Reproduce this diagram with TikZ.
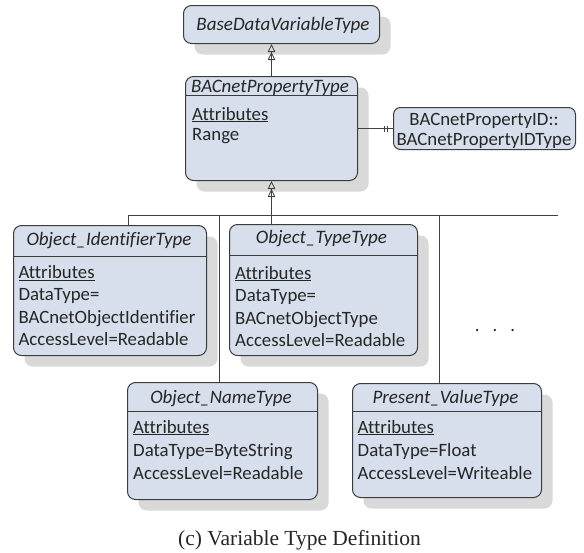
\documentclass[tikz,border=0pt]{standalone}
\usepackage{fontspec}
\setmainfont{Carlito}[Ligatures=NoCommon]
\newfontfamily\capfont{Liberation Serif}
\usetikzlibrary{arrows.meta,shadows}
\definecolor{boxfill}{HTML}{D6DFEB}
\definecolor{boxline}{HTML}{3C3C3C}
\definecolor{shadowgray}{HTML}{D9D9D9}
\definecolor{txt}{HTML}{262626}
\definecolor{conncol}{HTML}{404040}
\tikzset{
  cls/.style={draw=boxline, fill=boxfill, rounded corners=8pt, line width=1pt, anchor=north west, inner sep=0pt,
    drop shadow={shadow xshift=11pt, shadow yshift=-11pt, fill=shadowgray, opacity=1}},
  plainbox/.style={draw=boxline, fill=boxfill, rounded corners=7pt, line width=1pt, anchor=north west, inner sep=0pt},
  ttl/.style={font=\fontsize{19}{22}\selectfont\itshape, text=txt, inner sep=0pt, anchor=base},
  attr/.style={font=\fontsize{18.8}{22}\selectfont, text=txt, inner sep=0pt, anchor=base west},
  sepline/.style={draw=boxline, line width=0.8pt},
  conn/.style={draw=conncol, line width=0.9pt},
  gen/.style={conn, -{Triangle[open,length=8pt,width=7.5pt,line width=0.8pt]Triangle[open,length=8pt,width=7.5pt,line width=0.8pt]}},
}
\begin{document}
\begin{tikzpicture}[x=1pt,y=-1pt]
\useasboundingbox (0,0) rectangle (584,552);

% BaseDataVariableType
\node[cls, minimum width=196pt, minimum height=38pt] (bdv) at (183,5) {};
\node[ttl] (bdvt) at (283,30) {BaseDataVariableType};

% BACnetPropertyType
\node[cls, minimum width=172pt, minimum height=104pt] (bp) at (185,76) {};
\draw[sepline] (185,95) -- (357,95);
\node[ttl] (bpt) at (270,92.5) {BACnetPropertyType};
\node[attr] (bpa1) at (192,120) {\underline{Attributes}};
\node[attr] (bpa2) at (192,140.5) {Range};

% BACnetPropertyID
\node[plainbox, minimum width=182pt, minimum height=42pt] (pid) at (393,107) {};
\node[attr, anchor=base] (pid1) at (484,125) {BACnetPropertyID::};
\node[attr, anchor=base] (pid2) at (484,145) {BACnetPropertyIDType};

% Object_IdentifierType
\node[cls, minimum width=193pt, minimum height=130pt] (oi) at (13,225) {};
\draw[sepline] (13,256) -- (206,256);
\node[ttl] (oit) at (109,245.7) {Object\_IdentifierType};
\foreach \t [count=\i] in {\underline{Attributes}, DataType=, BACnetObjectIdentifier, AccessLevel=Readable}
  \node[attr] (oi-\i) at (18.3,278.3+22.5*\i-22.5) {\t};

% Object_TypeType
\node[cls, minimum width=188pt, minimum height=131pt] (ot) at (229,224) {};
\draw[sepline] (229,255) -- (417,255);
\node[ttl] (ott) at (321.5,243.3) {Object\_TypeType};
\foreach \t [count=\i] in {\underline{Attributes}, DataType=, BACnetObjectType, AccessLevel=Readable}
  \node[attr] (ot-\i) at (235,279+22.5*\i-22.5) {\t};

% Object_NameType
\node[cls, minimum width=190pt, minimum height=117pt] (on) at (127,382) {};
\draw[sepline] (127,411) -- (317,411);
\node[ttl] (ont) at (221,403.3) {Object\_NameType};
\foreach \t [count=\i] in {\underline{Attributes}, DataType=ByteString, AccessLevel=Readable}
  \node[attr] (on-\i) at (133,433+23*\i-23) {\t};

% Present_ValueType
\node[cls, minimum width=189pt, minimum height=114pt] (pv) at (352,383) {};
\draw[sepline] (352,411) -- (541,411);
\node[ttl] (pvt) at (445.5,403.3) {Present\_ValueType};
\foreach \t [count=\i] in {\underline{Attributes}, DataType=Float, AccessLevel=Writeable}
  \node[attr] (pv-\i) at (357.5,433+23*\i-23) {\t};

% dots
\node[attr, anchor=base] (dots) at (495,331.5) {.\hspace{13pt}.\hspace{13pt}.};

% connectors
\draw[gen] (bp.north) -- (bp.north |- bdv.south);
\draw[conn] (bp.east) -- (pid.west);
\draw[conn] ([xshift=-9pt]pid.west) ++(0,-3) -- ++(0,6);
\draw[conn] ([xshift=-5.5pt]pid.west) ++(0,-3) -- ++(0,6);

\coordinate (bus1) at (128,215);
\coordinate (bus2) at (558,215);
\coordinate (bus3) at (219,215);
\coordinate (bus4) at (439,215);
\draw[conn] (bus1) -- (bus2);
\draw[conn] (bus1) -- (bus1 |- oi.north);
\draw[gen] (ot.north -| bp.south) -- (bp.south);
\draw[conn] (bus3) -- (bus3 |- on.north);
\draw[conn] (bus4) -- (bus4 |- pv.north);

% caption
\node[font=\capfont\fontsize{21.5}{25}\selectfont, anchor=base, inner sep=0pt, text=txt] (cap) at (299.5,545) {(c) Variable Type Definition};
\end{tikzpicture}
\end{document}
